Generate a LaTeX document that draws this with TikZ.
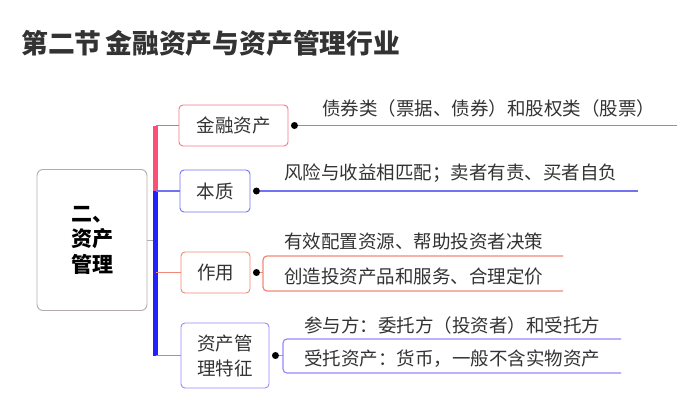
\documentclass[tikz,border=0pt]{standalone}
\usepackage{fontspec}
\setmainfont{Noto Sans CJK SC}

\definecolor{rosered}{HTML}{FF4D7A}
\definecolor{rosebox}{HTML}{F07890}
\definecolor{roseline}{HTML}{F0668A}
\definecolor{deepblue}{HTML}{2222FF}
\definecolor{bluebox}{HTML}{7272F2}
\definecolor{salmon}{HTML}{F08878}
\definecolor{lilac}{HTML}{9C86FF}
\definecolor{rootgray}{HTML}{B4ACAC}
\definecolor{inkgray}{HTML}{333333}

\begin{document}
\begin{tikzpicture}[x=1pt, y=-1pt,
    topic/.style={draw=#1, rounded corners=4pt, line width=0.9pt, align=left,
        inner sep=0pt, font=\fontsize{18.5}{25}\selectfont, text=inkgray},
    leaf/.style={anchor=west, inner sep=0pt, font=\fontsize{18.5}{22}\selectfont, text=inkgray},
    knob/.style={circle, fill=black, inner sep=0pt, minimum size=7pt},
    twig/.style={draw=#1, line width=1.2pt}
]

    % Canvas
    \useasboundingbox (0,0) rectangle (696,415);

    % Title
    \node[anchor=west, inner sep=0pt, text=inkgray,
        font=\fontsize{26.8}{30}\selectfont\bfseries] (title) at (21,43)
        {第二节\hspace{4pt}金融资产与资产管理行业};

    % Root
    \node[draw=rootgray, rounded corners=6pt, line width=0.9pt, minimum width=110pt,
        minimum height=141pt, inner sep=0pt, align=left,
        font=\fontsize{21}{25.5}\selectfont\bfseries] (root) at (92,240)
        {二、\\资产\\管理};

    % Branch boxes
    \node[topic=rosebox, minimum width=109pt, minimum height=41pt] (fin) at (233.5,125.5) {金融资产};
    \node[topic=bluebox, minimum width=70pt, minimum height=42pt] (ess) at (215,191) {本质};
    \node[topic=salmon, minimum width=69pt, minimum height=41pt] (use) at (215.5,272.5) {作用};
    \node[topic=lilac, minimum width=88pt, minimum height=65pt] (feat) at (225,355.5) {资产管\\理特征};

    % Trunk
    \coordinate (hub) at (155.5,240);
    \coordinate (t1) at (155.5,125.5);
    \coordinate (t2) at (155.5,191);
    \coordinate (t3) at (155.5,272.5);
    \coordinate (t4) at (155.5,355.5);
    \draw[rootgray, line width=1pt] (root.east) -- (hub);
    \draw[rosered, line width=4.5pt] (t1) -- (t2);
    \draw[deepblue, line width=4.5pt] (t2) -- (t4);

    % Branch lines
    \draw[twig=roseline] (t1) -- (fin.west);
    \draw[twig=bluebox] (t2) -- (ess.west);
    \draw[twig=salmon] (t3) -- (use.west);
    \draw[twig=lilac] (t4) -- (feat.west);

    % Knobs
    \node[knob] (k1) at ([xshift=6pt]fin.east) {};
    \node[knob] (k2) at ([xshift=6pt]ess.east) {};
    \node[knob] (k3) at ([xshift=6pt]use.east) {};
    \node[knob] (k4) at ([xshift=6pt]feat.east) {};

    % Leaves: financial assets
    \node[leaf] (l1) at (322,108) {债券类（票据、债券）和股权类（股票）};
    \coordinate (e1) at (677,125.5);
    \draw[twig=roseline] (k1) -- (e1);

    % Leaves: essence
    \node[leaf] (l2) at (284,173) {风险与收益相匹配；卖者有责、买者自负};
    \coordinate (e2) at (638,191);
    \draw[twig=bluebox] (k2) -- (e2);

    % Leaves: function
    \node[leaf] (l3a) at (284,241) {有效配置资源、帮助投资者决策};
    \node[leaf] (l3b) at (284,276) {创造投资产品和服务、合理定价};
    \coordinate (g3) at (263,272.5);
    \coordinate (e3a) at (563,256);
    \coordinate (e3b) at (563,291);
    \draw[twig=salmon, rounded corners=4pt] (e3a) -| (g3) |- (e3b);
    \draw[twig=salmon] (k3) -- (g3);

    % Leaves: features
    \node[leaf] (l4a) at (304,325) {参与方：委托方（投资者）和受托方};
    \node[leaf] (l4b) at (304,359) {受托资产：货币，一般不含实物资产};
    \coordinate (g4) at (283,355.5);
    \coordinate (e4a) at (621,339);
    \coordinate (e4b) at (621,373);
    \draw[twig=lilac, rounded corners=4pt] (e4a) -| (g4) |- (e4b);
    \draw[twig=lilac] (k4) -- (g4);

\end{tikzpicture}
\end{document}
